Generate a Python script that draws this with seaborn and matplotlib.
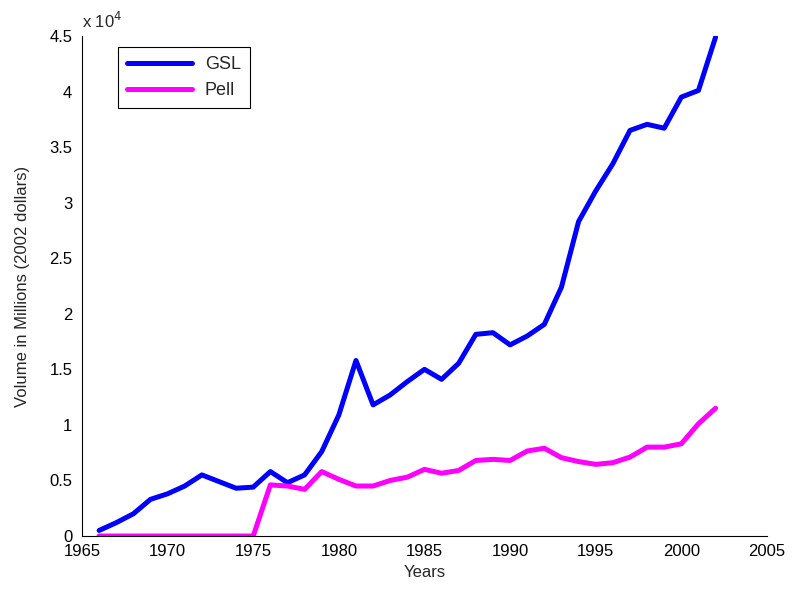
import matplotlib
matplotlib.use("Agg")
import matplotlib.pyplot as plt
import matplotlib.ticker as mticker
import pandas as pd
import seaborn as sns

sns.set_style("white")
plt.rcParams['font.family'] = ['Liberation Sans', 'DejaVu Sans']

years = list(range(1966, 2003))
gsl = [0.05, 0.12, 0.20, 0.33, 0.38, 0.45, 0.55, 0.49, 0.43, 0.44,
       0.58, 0.48, 0.55, 0.76, 1.09, 1.58, 1.18, 1.27, 1.39, 1.50,
       1.41, 1.555, 1.815, 1.83, 1.72, 1.80, 1.905, 2.24, 2.83, 3.105,
       3.35, 3.65, 3.705, 3.67, 3.95, 4.01, 4.49]
pell = [0, 0, 0, 0, 0, 0, 0, 0, 0, 0,
        0.46, 0.45, 0.42, 0.58, 0.51, 0.45, 0.45, 0.50, 0.53, 0.60,
        0.565, 0.59, 0.68, 0.69, 0.68, 0.765, 0.79, 0.705, 0.67, 0.645,
        0.66, 0.71, 0.80, 0.80, 0.83, 1.01, 1.15]
gsl = [v * 1e4 for v in gsl]
pell = [v * 1e4 for v in pell]

df = pd.DataFrame({"Year": years * 2,
                   "Volume": gsl + pell,
                   "Program": ["GSL"] * len(years) + ["Pell"] * len(years)})

fig = plt.figure(figsize=(7.96, 5.9), dpi=100)
ax = fig.add_axes([0.103, 0.0915, 0.8605, 0.8475])
sns.lineplot(data=df, x="Year", y="Volume", hue="Program",
             palette={"GSL": "#0000ff", "Pell": "#ff00ff"},
             linewidth=3.6, ax=ax)

ax.set_xlim(1965, 2005)
ax.set_ylim(0, 45000)
ax.set_xticks(range(1965, 2006, 5))
ax.set_yticks([i * 5000 for i in range(10)])
ax.yaxis.set_major_formatter(mticker.FuncFormatter(lambda v, p: "%g" % (v / 1e4)))
ax.tick_params(direction="in", length=4, labelsize=12, colors="black")
ax.tick_params(axis="y", pad=7)
ax.tick_params(axis="x", pad=6)
for s in ["top", "right"]:
    ax.spines[s].set_visible(False)
for s in ["left", "bottom"]:
    ax.spines[s].set_color("black")
    ax.spines[s].set_linewidth(0.8)

ax.set_xlabel("Years", fontsize=12, labelpad=4)
ax.set_ylabel("Volume in Millions (2002 dollars)", fontsize=12, labelpad=14)
ax.text(0.0, 1.01, r"x 10$^4$", transform=ax.transAxes, fontsize=12,
        ha="left", va="bottom")

leg = ax.legend(loc="upper left", bbox_to_anchor=(0.053, 0.978), borderaxespad=0,
                fontsize=13, handlelength=3.6, borderpad=0.5, labelspacing=0.5,
                handletextpad=0.7, frameon=True, fancybox=False,
                edgecolor="black", framealpha=1, title=None)
leg.get_frame().set_linewidth(0.8)

fig.savefig("out.png", dpi=100)
